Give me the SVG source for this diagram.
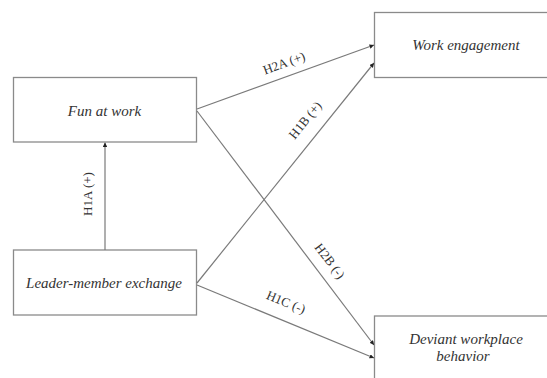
<svg xmlns="http://www.w3.org/2000/svg" width="547" height="378" viewBox="0 0 547 378">
<defs>
<style>
.box{fill:#fff;stroke:#8a8a8a;stroke-width:1.3}
.node{font-family:"Liberation Serif","Times New Roman",serif;font-style:italic;font-size:15px;fill:#333;text-anchor:middle}
.edge{stroke:#7a7a7a;stroke-width:1.2;fill:none;marker-end:url(#ah)}
.lbl{font-family:"Liberation Serif","Times New Roman",serif;font-size:13px;fill:#333;text-anchor:middle}
</style>
<marker id="ah" viewBox="0 0 10 10" refX="10" refY="5" markerWidth="4.5" markerHeight="4.5" orient="auto" markerUnits="userSpaceOnUse">
<path d="M0,0 L10,5 L0,10 Z" fill="#222"/>
</marker>
</defs>
<rect width="547" height="378" fill="#fff"/>
<g id="fun">
<rect class="box" x="13.5" y="77.5" width="183" height="64.5"/>
<text class="node" x="104.5" y="115.5">Fun at work</text>
</g>
<g id="lmx">
<rect class="box" x="13.5" y="250" width="183" height="65"/>
<text class="node" x="104" y="288">Leader-member exchange</text>
</g>
<g id="we">
<rect class="box" x="374.5" y="12.5" width="180" height="65"/>
<text class="node" x="466" y="50">Work engagement</text>
</g>
<g id="dwb">
<rect class="box" x="374.5" y="316" width="180" height="70"/>
<text class="node" x="466" y="344">Deviant workplace</text>
<text class="node" x="463" y="361">behavior</text>
</g>
<g id="connectors">
<line class="edge" x1="105" y1="250" x2="105" y2="142.5"/>
<line class="edge" x1="197" y1="109" x2="374" y2="45"/>
<line class="edge" x1="197" y1="283" x2="374" y2="63"/>
<line class="edge" x1="197" y1="111" x2="374" y2="345"/>
<line class="edge" x1="197" y1="285" x2="374" y2="358"/>
<text class="lbl" transform="translate(87,194) rotate(-90)" dy="4.5">H1A (+)</text>
<text class="lbl" transform="translate(284,63) rotate(-19.9)" dy="4.5">H2A (+)</text>
<text class="lbl" transform="translate(305,120) rotate(-51.2)" dy="4.5">H1B (+)</text>
<text class="lbl" transform="translate(330,261) rotate(52.9)" dy="4.5">H2B (-)</text>
<text class="lbl" transform="translate(286,302) rotate(22.4)" dy="4.5">H1C (-)</text>
</g>
</svg>
